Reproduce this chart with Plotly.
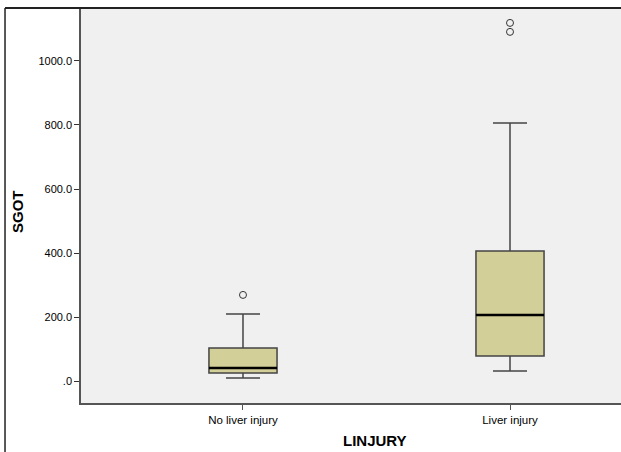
import plotly.graph_objects as go

# Data
categories = ["No liver injury", "Liver injury"]
positions = [0, 1]
q1 = [25, 78]
median = [41, 206]
q3 = [103, 406]
lower_whisker = [9, 31]
upper_whisker = [209, 806]
outlier_cat = [0, 1, 1]
outlier_val = [269, 1091, 1119]

y_tickvals = [0, 200, 400, 600, 800, 1000]
y_ticktext = [".0", "200.0", "400.0", "600.0", "800.0", "1000.0"]

BOX_W = 0.255
FILL = "#D3CF98"
EDGE = "#444444"

fig = go.Figure()
fig.add_trace(go.Box(
    x=positions, q1=q1, median=median, q3=q3,
    lowerfence=lower_whisker, upperfence=upper_whisker,
    width=BOX_W, whiskerwidth=0.5,
    fillcolor=FILL, line=dict(color=EDGE, width=1.5),
    boxpoints=False, showlegend=False, hoverinfo="skip",
))
for p, m in zip(positions, median):
    fig.add_trace(go.Scatter(
        x=[p - BOX_W / 2, p + BOX_W / 2], y=[m, m], mode="lines",
        line=dict(color="black", width=2.5), showlegend=False, hoverinfo="skip",
    ))
fig.add_trace(go.Scatter(
    x=outlier_cat, y=outlier_val, mode="markers",
    marker=dict(symbol="circle-open", size=7, color="#333333", line=dict(width=1)),
    showlegend=False, hoverinfo="skip",
))

font = "Liberation Sans, Arial, sans-serif"
fig.update_layout(
    width=621, height=452,
    margin=dict(l=81, r=0, t=8, b=49),
    paper_bgcolor="white", plot_bgcolor="#F0F0F0",
    font=dict(family=font, color="black"),
    xaxis=dict(
        range=[-0.6067, 1.4157], tickvals=positions, ticktext=categories,
        showgrid=False, zeroline=False, showline=True, linecolor="#555555", linewidth=2,
        ticks="outside", ticklen=5, tickcolor="#555555", tickwidth=1,
        tickfont=dict(size=11.5, family=font, color="black"),
    ),
    yaxis=dict(
        range=[-68.75, 1165.6], tickvals=y_tickvals, ticktext=y_ticktext,
        showgrid=False, zeroline=False, showline=True, linecolor="#555555", linewidth=1.5,
        ticks="outside", ticklen=5, tickcolor="#333333", tickwidth=1,
        tickfont=dict(size=11, family=font, color="black"),
    ),
    shapes=[
        dict(type="line", xref="paper", yref="paper", x0=-0.1407, x1=-0.1407, y0=-0.13, y1=1.0,
             line=dict(color="#222222", width=1.5)),
        dict(type="line", xref="paper", yref="paper", x0=-0.1407, x1=1.0, y0=1.0, y1=1.0,
             line=dict(color="#222222", width=2)),
    ],
    annotations=[
        dict(text="<b>SGOT</b>", xref="paper", yref="paper", x=-0.1185, y=0.4835,
             textangle=-90, showarrow=False, font=dict(size=15, family=font, color="black"),
             xanchor="center", yanchor="middle"),
        dict(text="<b>LINJURY</b>", xref="paper", yref="paper", x=0.5444, y=-0.0937,
             showarrow=False, font=dict(size=15, family=font, color="black"),
             xanchor="center", yanchor="middle"),
    ],
)

fig.write_html(
    "out.html",
    config={"displayModeBar": False},
    post_script="document.body.style.margin='0';document.body.style.padding='0';",
)
